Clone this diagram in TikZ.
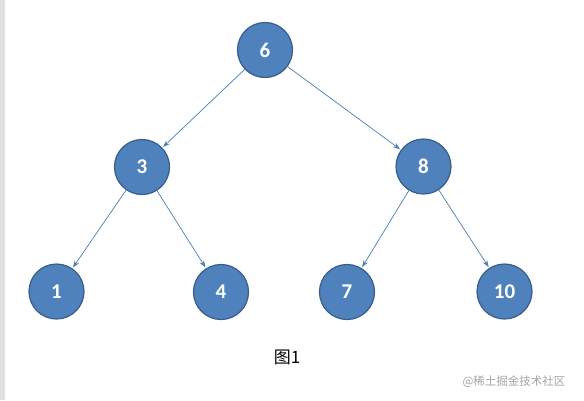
\documentclass[tikz,border=0pt]{standalone}
\usepackage{fontspec}
\setsansfont{Carlito}
\newfontfamily\cjk{Noto Sans CJK SC}
\usetikzlibrary{arrows.meta}
\definecolor{nodeblue}{HTML}{4F81BD}
\definecolor{nodeedge}{HTML}{385D8A}
\definecolor{linkblue}{HTML}{4A7EBB}
\tikzset{
  treenode/.style={circle, fill=nodeblue, draw=nodeedge, line width=1.2pt,
    minimum size=55pt, inner sep=0pt, text=white, font=\sffamily\bfseries\fontsize{21}{24}\selectfont},
  link/.style={draw=linkblue, line width=0.7pt, -{Stealth[length=7pt,width=5pt]}, shorten >=1pt}
}
\begin{document}
\begin{tikzpicture}[x=1pt,y=-1pt]
                \useasboundingbox (0,0) rectangle (584,400);
                \fill[white] (0,0) rectangle (584,400);
                \fill[black!12] (0,0) rectangle (5,400);
                % tree nodes
                \node[treenode] (n6) at (265,50) {6};
                \node[treenode] (n3) at (142,167) {3};
                \node[treenode] (n8) at (423.5,166.5) {8};
                \node[treenode] (n1) at (56.5,291.5) {1};
                \node[treenode] (n4) at (221,292) {4};
                \node[treenode] (n7) at (347,292) {7};
                \node[treenode] (n10) at (504.5,291.5) {10};
                % links
                \draw[link] (n6) -- (n3);
                \draw[link] (n6) -- (n8);
                \draw[link] (n3) -- (n1);
                \draw[link] (n3) -- (n4);
                \draw[link] (n8) -- (n7);
                \draw[link] (n8) -- (n10);
                % caption
                \node[font=\cjk\fontsize{17}{20}\selectfont] (caption) at (287,357) {图1};
                \node[font=\cjk\fontsize{11.5}{14}\selectfont, text=black!35] (mark) at (514,382) {@稀土掘金技术社区};
\end{tikzpicture}
\end{document}
